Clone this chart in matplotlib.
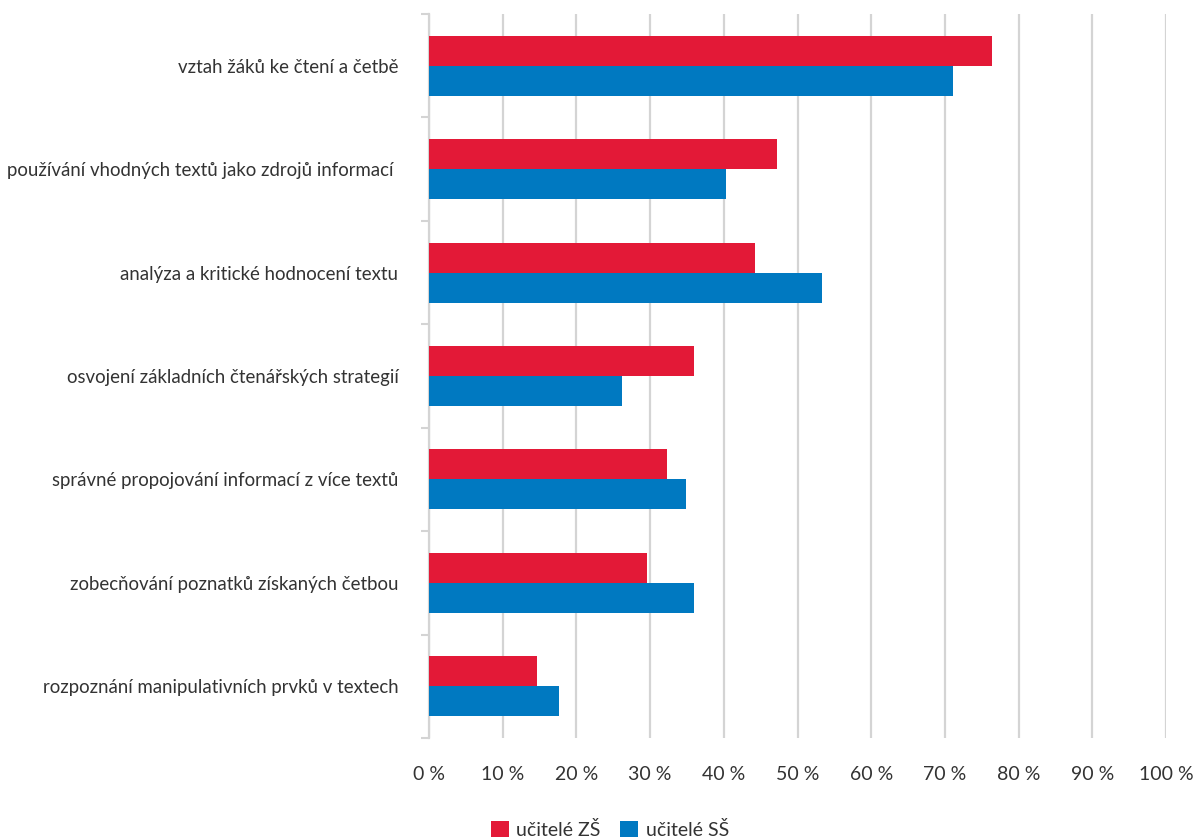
import matplotlib
matplotlib.use("Agg")
import matplotlib.pyplot as plt
import numpy as np
from matplotlib.ticker import FixedLocator

plt.rcParams['font.family'] = ['Liberation Sans Narrow', 'Lato', 'DejaVu Sans']

kategorie = [
    "vztah žáků ke čtení a četbě",
    "používání vhodných textů jako zdrojů informací ",
    "analýza a kritické hodnocení textu",
    "osvojení základních čtenářských strategií",
    "správné propojování informací z více textů",
    "zobecňování poznatků získaných četbou",
    "rozpoznání manipulativních prvků v textech",
]
ucitele_zs = [76.4, 47.2, 44.2, 36.0, 32.3, 29.6, 14.6]
ucitele_ss = [71.1, 40.3, 53.3, 26.2, 34.8, 36.0, 17.6]
popisky_x = [f"{v} %" for v in range(0, 101, 10)]

cervena = "#E31937"
modra = "#0079C1"
seda = "#d4d4d4"
text_barva = "#333333"

fig = plt.figure(figsize=(11.96, 8.38), dpi=100)
ax = fig.add_axes([0.3587, 0.1193, 0.6163, 0.8640])

y = np.arange(len(kategorie))
h = 0.29
ax.barh(y - h / 2, ucitele_zs, height=h, color=cervena, label="učitelé ZŠ", zorder=3)
ax.barh(y + h / 2, ucitele_ss, height=h, color=modra, label="učitelé SŠ", zorder=3)

ax.set_xlim(0, 100)
ax.set_ylim(len(kategorie) - 0.5, -0.5)
ax.set_xticks(range(0, 101, 10))
ax.set_xticklabels(popisky_x, fontsize=14, color=text_barva)
ax.set_yticks(y)
ax.set_yticklabels(kategorie, fontsize=13.4, color=text_barva)
ax.tick_params(axis='y', length=0, pad=22)
ax.tick_params(axis='x', length=0, pad=20)
ax.yaxis.set_minor_locator(FixedLocator(np.arange(-0.5, len(kategorie), 1)))
ax.tick_params(axis='y', which='minor', length=6, color=seda, width=1.5)

ax.grid(axis='x', color=seda, linewidth=1.6, zorder=0)
for s in ['top', 'right', 'bottom']:
    ax.spines[s].set_visible(False)
ax.spines['left'].set_color(seda)
ax.spines['left'].set_linewidth(1.6)

fig.legend(loc='lower center', bbox_to_anchor=(0.51, -0.022), ncol=2, frameon=False,
           fontsize=14, handlelength=0.9, handleheight=0.9, columnspacing=1.0,
           handletextpad=0.4, labelcolor=text_barva)

fig.savefig("out.png", dpi=100)
